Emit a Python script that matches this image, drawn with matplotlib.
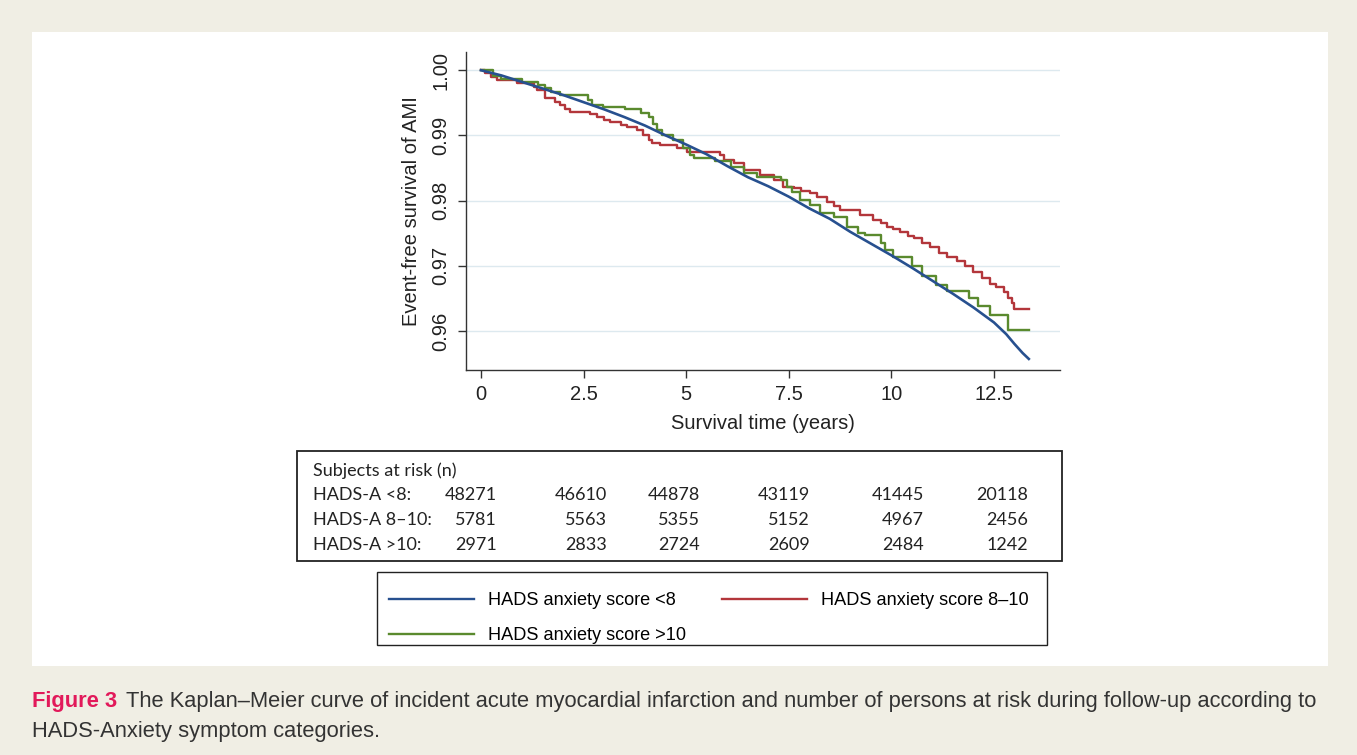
import matplotlib.pyplot as plt
from matplotlib.patches import Rectangle

# Kaplan-Meier curves (time in years, event-free survival)
blue_t = [0, 0.5, 1, 1.5, 2, 2.5, 3, 3.5, 4, 4.5, 5, 5.5, 6, 6.5, 7, 7.5, 8, 8.5,
          9, 9.5, 10, 10.5, 11, 11.5, 12, 12.5, 12.8, 13.0, 13.2, 13.35]
blue_s = [1.0, 0.9992, 0.9982, 0.9972, 0.9962, 0.9951, 0.9940, 0.9928, 0.9915,
          0.9900, 0.9886, 0.9871, 0.9853, 0.9836, 0.9822, 0.9806, 0.9788, 0.9772,
          0.9752, 0.9734, 0.9716, 0.9697, 0.9677, 0.9657, 0.9636, 0.9613, 0.9595,
          0.9580, 0.9566, 0.9557]

red_t = [0.0, 0.1, 0.25, 0.38, 0.87, 1.3, 1.36, 1.55, 1.8, 1.92, 2.05, 2.17, 2.66,
         2.82, 3.0, 3.14, 3.4, 3.55, 3.79, 3.96, 4.1, 4.16, 4.36, 4.77, 5.01, 5.83,
         5.91, 6.16, 6.4, 6.81, 7.13, 7.37, 7.62, 7.8, 8.03, 8.2, 8.43, 8.6, 8.76,
         9.24, 9.56, 9.75, 9.89, 10.05, 10.21, 10.4, 10.54, 10.75, 10.94, 11.15,
         11.35, 11.6, 11.8, 12.0, 12.2, 12.4, 12.55, 12.75, 12.85, 12.95, 13.0, 13.36]
red_s = [1.0, 0.9996, 0.9990, 0.9985, 0.9980, 0.9975, 0.9970, 0.9958, 0.9952,
         0.9946, 0.9940, 0.9936, 0.9933, 0.9928, 0.9924, 0.9921, 0.9916, 0.9913,
         0.9908, 0.9900, 0.9893, 0.9888, 0.9885, 0.9880, 0.9875, 0.9870, 0.9862,
         0.9858, 0.9847, 0.9839, 0.9832, 0.9821, 0.9819, 0.9815, 0.9811, 0.9805,
         0.9798, 0.9791, 0.9785, 0.9778, 0.9770, 0.9765, 0.9760, 0.9756, 0.9752,
         0.9746, 0.9742, 0.9735, 0.9729, 0.9720, 0.9714, 0.9707, 0.9700, 0.9691,
         0.9681, 0.9672, 0.9667, 0.9659, 0.9650, 0.9643, 0.9633, 0.9633]

green_t = [0.0, 0.3, 0.5, 1.0, 1.4, 1.55, 1.7, 1.92, 2.61, 2.7, 2.98, 3.5, 3.9,
           4.1, 4.2, 4.3, 4.4, 4.69, 4.93, 5.09, 5.2, 5.7, 6.1, 6.4, 6.73, 7.3,
           7.45, 7.58, 7.78, 8.03, 8.27, 8.6, 8.93, 9.18, 9.35, 9.75, 9.85, 10.05,
           10.5, 10.75, 11.1, 11.35, 11.9, 12.1, 12.4, 12.85, 13.36]
green_s = [1.0, 0.9991, 0.9986, 0.9982, 0.9978, 0.9972, 0.9966, 0.9962, 0.9955,
           0.9946, 0.9944, 0.9941, 0.9935, 0.9928, 0.9918, 0.9908, 0.9900, 0.9893,
           0.9880, 0.9870, 0.9865, 0.9860, 0.9851, 0.9842, 0.9836, 0.9831, 0.9821,
           0.9813, 0.9801, 0.9793, 0.9781, 0.9775, 0.9760, 0.9750, 0.9747, 0.9735,
           0.9724, 0.9714, 0.9700, 0.9685, 0.9670, 0.9661, 0.9650, 0.9638, 0.9624,
           0.9602, 0.9602]

series_names = ['HADS anxiety score <8', 'HADS anxiety score 8\u201310',
                'HADS anxiety score >10']
risk_rows = ['HADS-A <8:', 'HADS-A 8\u201310:', 'HADS-A >10:']
risk_lt8 = [48271, 46610, 44878, 43119, 41445, 20118]
risk_8_10 = [5781, 5563, 5355, 5152, 4967, 2456]
risk_gt10 = [2971, 2833, 2724, 2609, 2484, 1242]

xticks = [0, 2.5, 5, 7.5, 10, 12.5]
xticklabels = ['0', '2.5', '5', '7.5', '10', '12.5']
yticks = [0.96, 0.97, 0.98, 0.99, 1.00]

caption_bold = 'Figure 3'
caption_line1 = ('The Kaplan\u2013Meier curve of incident acute myocardial infarction '
                 'and number of persons at risk during follow-up according to')
caption_line2 = 'HADS-Anxiety symptom categories.'

BLUE = '#27508f'
RED = '#b3363b'
GREEN = '#5a8a2e'

W, H = 1357, 755
def fx(px):
    return px / W
def fy(py):
    return 1 - py / H

plt.rcParams['font.family'] = ['Liberation Sans', 'DejaVu Sans']

fig = plt.figure(figsize=(W / 100, H / 100), dpi=100)
fig.patch.set_facecolor('#f0eee4')
fig.patches.append(Rectangle((fx(32), fy(666)), fx(1328) - fx(32), fy(32) - fy(666),
                             transform=fig.transFigure, facecolor='white',
                             edgecolor='none', zorder=-5))

ax = fig.add_axes([fx(466), fy(370), fx(1060) - fx(466), fy(52) - fy(370)])
ax.set_zorder(2)
ax.set_facecolor('white')
l_blue, = ax.plot(blue_t, blue_s, color=BLUE, lw=1.9, zorder=3)
l_red, = ax.plot(red_t, red_s, color=RED, lw=1.7, drawstyle='steps-post', zorder=2)
l_green, = ax.plot(green_t, green_s, color=GREEN, lw=1.7, drawstyle='steps-post', zorder=2)

ax.set_xlim(-0.365, 14.11)
ax.set_ylim(0.9540, 1.0028)
ax.set_xticks(xticks)
ax.set_xticklabels(xticklabels)
ax.set_yticks(yticks)
ax.set_yticklabels(['%.2f' % v for v in yticks], rotation=90, va='center')
ax.yaxis.grid(True, color='#dde9ef', lw=1.0)
ax.set_axisbelow(True)
for s in ['top', 'right']:
    ax.spines[s].set_visible(False)
for s in ['left', 'bottom']:
    ax.spines[s].set_color('#333333')
    ax.spines[s].set_linewidth(1.0)
ax.tick_params(direction='out', length=6, width=1, color='#333333',
               labelsize=14.5, labelcolor='#222222', pad=5)
ax.set_xlabel('Survival time (years)', fontsize=14.5, color='#222222', labelpad=7)
ax.set_ylabel('Event-free survival of AMI', fontsize=14.5, color='#222222', labelpad=8)

# numbers at risk table
tfont = ['Lato', 'DejaVu Sans']
tsize = 13
fig.patches.append(Rectangle((fx(297), fy(561)), fx(1062) - fx(297), fy(451) - fy(561),
                             transform=fig.transFigure, facecolor='none',
                             edgecolor='#222222', lw=1.3))
fig.text(fx(313), fy(471), 'Subjects at risk (n)', family=tfont, fontsize=tsize,
         va='center', color='#222222')
col_right = [497, 607, 700, 810, 924, 1028]
row_y = [495, 520, 545]
for label, vals, yy in zip(risk_rows, [risk_lt8, risk_8_10, risk_gt10], row_y):
    fig.text(fx(313), fy(yy), label, family=tfont, fontsize=tsize, va='center',
             color='#222222')
    for v, xr in zip(vals, col_right):
        fig.text(fx(xr), fy(yy), str(v), family=tfont, fontsize=tsize, va='center',
                 ha='right', color='#222222')

# legend: box drawn separately, entries placed inside it
fig.patches.append(Rectangle((fx(377), fy(645)), fx(1047) - fx(377), fy(572) - fy(645),
                             transform=fig.transFigure, facecolor='white',
                             edgecolor='#222222', lw=1.0))
leg = fig.legend([l_blue, l_green, l_red],
                 [series_names[0], series_names[2], series_names[1]],
                 ncol=2, loc='upper left', bbox_to_anchor=(fx(389), fy(592)),
                 frameon=False, handlelength=4.67, columnspacing=2.0,
                 handletextpad=0.77, labelspacing=1.0, borderpad=0,
                 borderaxespad=0, fontsize=13.1)
for line in leg.get_lines():
    line.set_linewidth(1.7)

# caption, scaled so the first line spans the panel width
cfont = ['Liberation Sans', 'DejaVu Sans']
csize = 14
t1 = fig.text(fx(32), fy(702), caption_bold, family=cfont, fontsize=csize,
              fontweight='bold', color='#e2195a', va='center')
t2 = fig.text(0, fy(702), caption_line1, family=cfont, fontsize=csize,
              color='#333333', va='center')
t3 = fig.text(fx(32), fy(731), caption_line2, family=cfont, fontsize=csize,
              color='#333333', va='center')
fig.canvas.draw()
r = fig.canvas.get_renderer()
total = (t1.get_window_extent(r).width + 8 + t2.get_window_extent(r).width)
scale = (1330 - 32) / total
for t in (t1, t2, t3):
    t.set_fontsize(csize * scale)
fig.canvas.draw()
bb = t1.get_window_extent(r)
t2.set_x(bb.x1 / W + fx(8 * scale))

fig.savefig('out.png', dpi=100, facecolor=fig.get_facecolor())
